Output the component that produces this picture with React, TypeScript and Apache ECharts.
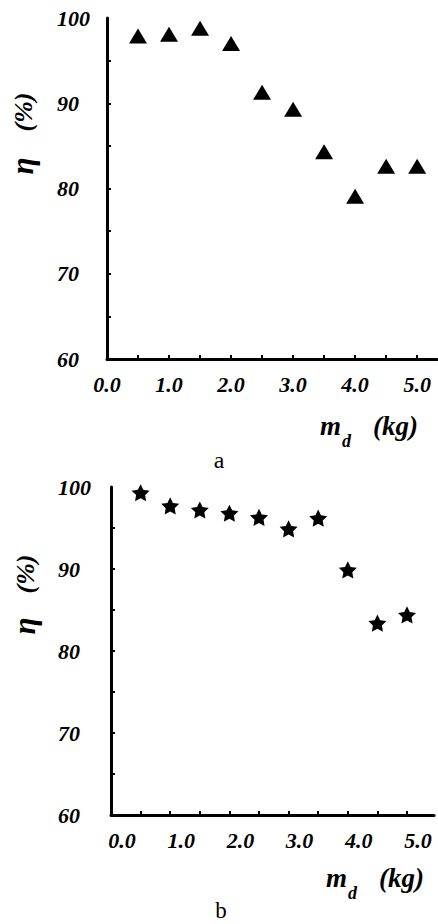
import React, { useEffect, useRef } from "react";
import * as echarts from "echarts";

// Panel a: recovery efficiency vs. dose (triangles)
const massA = [0.5, 1.0, 1.5, 2.0, 2.5, 3.0, 3.5, 4.0, 4.5, 5.0];
const etaA = [97.9, 98.1, 98.8, 97.0, 91.3, 89.3, 84.3, 79.1, 82.6, 82.6];

// Panel b: recovery efficiency vs. dose (stars)
const massB = [0.5, 1.0, 1.5, 2.0, 2.5, 3.0, 3.5, 4.0, 4.5, 5.0];
const etaB = [99.3, 97.7, 97.2, 96.8, 96.3, 94.9, 96.2, 89.9, 83.4, 84.4];

const xTickValues = [0.5, 1.0, 1.5, 2.0, 2.5, 3.0, 3.5, 4.0, 4.5, 5.0];
const xLabelValues = [0, 1, 2, 3, 4, 5];
const yTickValues = [65, 70, 75, 80, 85, 90, 95];
const yLabelValues = [60, 70, 80, 90, 100];

const STAR =
  "path://M50,2 L64.7,31.8 L97.6,36.5 L73.8,59.7 L79.4,92.5 L50,77 L20.6,92.5 L26.2,59.7 L2.4,36.5 L35.3,31.8 Z";

const SERIF = "'Liberation Serif', 'Times New Roman', serif";

const labelFont = {
  fontFamily: SERIF,
  fontWeight: "bold" as const,
  fontStyle: "italic" as const,
  fontSize: 22,
  color: "#000",
};

function xAxisFor(gridIndex: number, max: number, shift: number) {
  return {
    type: "value",
    gridIndex,
    min: 0,
    max,
    axisLine: { show: true, lineStyle: { color: "#000", width: 3 } },
    axisTick: {
      show: true,
      inside: true,
      length: 4,
      customValues: xTickValues,
      lineStyle: { color: "#000", width: 2 },
    },
    axisLabel: {
      ...labelFont,
      margin: 14,
      customValues: xLabelValues,
      padding: [0, 0, 0, shift],
      formatter: (v: number) => v.toFixed(1),
    },
    splitLine: { show: false },
  };
}

function yAxisFor(gridIndex: number, margin: number) {
  return {
    type: "value",
    gridIndex,
    min: 60,
    max: 100,
    axisLine: { show: true, lineStyle: { color: "#000", width: 3 } },
    axisTick: {
      show: true,
      inside: true,
      length: 4,
      customValues: yTickValues,
      lineStyle: { color: "#000", width: 2 },
    },
    axisLabel: {
      ...labelFont,
      margin,
      align: "left",
      customValues: yLabelValues,
    },
    splitLine: { show: false },
  };
}

const boldItalic = { fontFamily: SERIF, fontWeight: "bold", fontStyle: "italic", fill: "#000" };

// η (%) rotated along the y axis, and m_d (kg) under the x axis
function axisTitles(etaY: number, pctY: number, yx: number, xm: number, ym: number) {
  return [
    {
      type: "text",
      x: yx,
      y: pctY,
      rotation: Math.PI / 2,
      style: { ...boldItalic, text: "(%)", fontSize: 26, align: "center", verticalAlign: "middle" },
    },
    {
      type: "text",
      x: yx - 1,
      y: etaY,
      rotation: Math.PI / 2,
      style: { ...boldItalic, text: "η", fontSize: 31, align: "center", verticalAlign: "middle" },
    },
    {
      type: "text",
      x: xm,
      y: ym,
      style: { ...boldItalic, text: "m", fontSize: 27, align: "left", verticalAlign: "middle" },
    },
    {
      type: "text",
      x: xm + 22,
      y: ym + 15,
      style: { ...boldItalic, text: "d", fontSize: 18, align: "left", verticalAlign: "middle" },
    },
    {
      type: "text",
      x: xm + 53,
      y: ym,
      style: { ...boldItalic, text: "(kg)", fontSize: 27, align: "left", verticalAlign: "middle" },
    },
  ];
}

export default function App() {
  const ref = useRef<HTMLDivElement>(null);

  useEffect(() => {
    if (!ref.current) return;
    const chart = echarts.init(ref.current, undefined, { renderer: "svg" });
    const option = {
      animation: false,
      backgroundColor: "#fff",
      grid: [
        { left: 107, top: 18, width: 330, height: 341 },
        { left: 111, top: 487, width: 323, height: 328 },
      ],
      xAxis: [xAxisFor(0, 5.32, 0), xAxisFor(1, 5.456, 22)],
      yAxis: [yAxisFor(0, 50), yAxisFor(1, 53)],
      series: [
        {
          type: "scatter",
          xAxisIndex: 0,
          yAxisIndex: 0,
          symbol: "triangle",
          symbolSize: [18, 15],
          itemStyle: { color: "#000", opacity: 1 },
          data: massA.map((m, i) => [m, etaA[i]]),
        },
        {
          type: "scatter",
          xAxisIndex: 1,
          yAxisIndex: 1,
          symbol: STAR,
          symbolKeepAspect: true,
          symbolSize: 18,
          itemStyle: { color: "#000", opacity: 1 },
          data: massB.map((m, i) => [m, etaB[i]]),
        },
      ],
      graphic: [
        ...axisTitles(166, 112, 23, 320, 426),
        ...axisTitles(626, 574, 25, 326, 878),
        {
          type: "text",
          x: 219,
          y: 472,
          style: { text: "a", fontFamily: SERIF, fontSize: 24, fill: "#000", align: "center", verticalAlign: "bottom" },
        },
        {
          type: "text",
          x: 221,
          y: 922,
          style: { text: "b", fontFamily: SERIF, fontSize: 23, fill: "#000", align: "center", verticalAlign: "bottom" },
        },
      ],
    };
    chart.setOption(option as any);
    return () => chart.dispose();
  }, []);

  return (
    <div
      ref={ref}
      style={{ position: "absolute", left: 0, top: 0, width: 438, height: 924, background: "#fff" }}
    />
  );
}
